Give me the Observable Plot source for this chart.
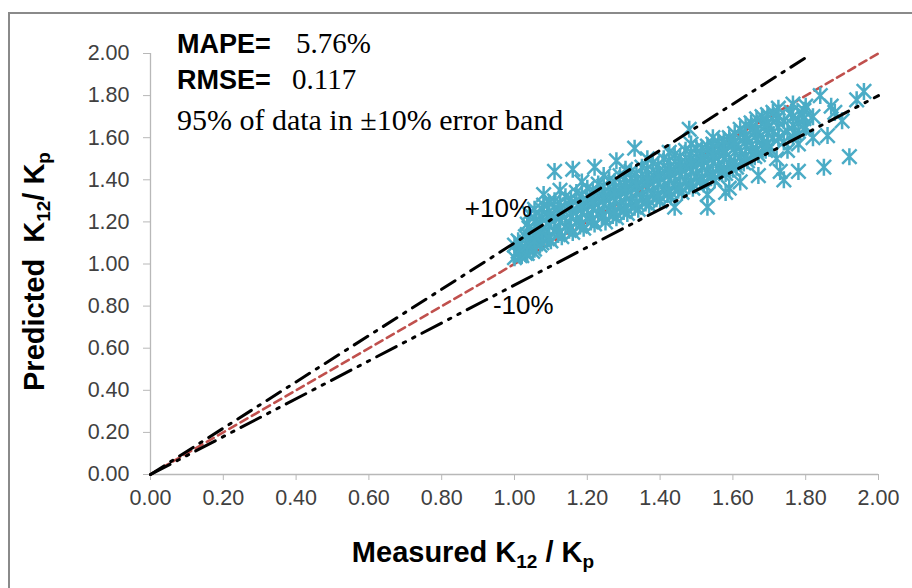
<!DOCTYPE html>
<html>
<head>
<meta charset="utf-8">
<script src="https://cdn.jsdelivr.net/npm/d3@7"></script>
<script src="https://cdn.jsdelivr.net/npm/@observablehq/plot@0.6"></script>
<style>
  html, body { margin: 0; padding: 0; background: #fff; }
  #wrap { position: relative; width: 912px; height: 588px; overflow: hidden; }
  #frame { position: absolute; left: 8px; top: 12px; right: -10px; bottom: -10px;
           border-top: 2px solid #8a8a8a; border-left: 2px solid #8a8a8a; pointer-events: none; }
</style>
</head>
<body>
<div id="wrap"><div id="frame"></div></div>
<script>
// ---- data ----
const measured = [
  1.00,1.01,1.00,1.02,1.01,1.02,1.03,1.03,
  1.04,1.05,1.04,1.06,1.05,1.06,1.04,1.06,
  1.07,1.08,1.07,1.09,1.08,1.09,1.08,
  1.10,1.11,1.10,1.12,1.11,1.12,1.11,
  1.13,1.14,1.13,1.15,1.14,1.15,1.16,
  1.16,1.17,1.16,1.18,1.17,1.18,
  1.19,1.20,1.19,1.21,1.20,1.21,1.22,
  1.22,1.23,1.22,1.24,1.23,1.24,
  1.25,1.26,1.25,1.27,1.26,1.27,1.28,
  1.28,1.29,1.28,1.30,1.29,1.30,
  1.31,1.32,1.31,1.33,1.32,1.33,1.33,
  1.34,1.35,1.34,1.36,1.35,1.36,
  1.37,1.38,1.37,1.39,1.38,1.39,
  1.40,1.41,1.40,1.42,1.41,1.42,
  1.43,1.44,1.43,1.45,1.44,1.45,1.44,
  1.46,1.47,1.46,1.48,1.47,1.48,1.48,
  1.49,1.50,1.49,1.51,1.50,1.51,1.53,
  1.52,1.53,1.52,1.54,1.53,1.54,
  1.55,1.56,1.55,1.57,1.56,1.57,1.58,
  1.58,1.59,1.58,1.60,1.59,1.60,
  1.61,1.62,1.61,1.63,1.62,1.63,1.62,
  1.64,1.65,1.64,1.66,1.65,1.66,1.67,
  1.67,1.68,1.67,1.69,1.68,1.69,
  1.70,1.71,1.70,1.72,1.71,1.72,1.73,
  1.74,1.75,1.74,1.76,1.75,1.74,
  1.77,1.78,1.79,1.80,1.78,1.80,
  1.82,1.84,1.86,1.85,1.78,1.88,1.92,1.94,1.96,1.90,1.82,1.87,1.59,1.53,
  1.015,1.015,1.015,
  1.035,1.035,1.035,1.035,
  1.055,1.055,1.055,1.055,1.055,
  1.075,1.075,1.075,1.075,
  1.095,1.095,1.095,1.095,
  1.125,1.125,1.125,1.125,1.125,
  1.155,1.155,1.155,1.155,
  1.185,1.185,1.185,1.185,1.185,
  1.215,1.215,1.215,1.215,
  1.245,1.245,1.245,1.245,1.245,
  1.275,1.275,1.275,1.275,
  1.305,1.305,1.305,1.305,1.305,
  1.335,1.335,1.335,1.335,
  1.365,1.365,1.365,1.365,1.365,
  1.395,1.395,1.395,1.395,
  1.425,1.425,1.425,1.425,1.425,
  1.455,1.455,1.455,1.455,
  1.485,1.485,1.485,1.485,1.485,
  1.515,1.515,1.515,1.515,
  1.545,1.545,1.545,1.545,1.545,
  1.575,1.575,1.575,1.575,
  1.605,1.605,1.605,1.605,
  1.635,1.635,1.635,1.635,
  1.665,1.665,1.665,1.665,
  1.695,1.695,1.695,1.695,
  1.725,1.725,1.725,1.725,
  1.765,1.765,1.765,1.765,
  1.795,1.795,1.795
];
const predicted = [
  1.03,1.06,1.09,1.04,1.11,1.08,1.13,1.05,
  1.08,1.12,1.17,1.21,1.06,1.15,1.24,1.10,
  1.09,1.14,1.19,1.24,1.28,1.12,1.33,
  1.11,1.16,1.21,1.26,1.30,1.14,1.44,
  1.13,1.18,1.23,1.28,1.32,1.16,1.45,
  1.15,1.20,1.25,1.29,1.34,1.18,
  1.17,1.22,1.27,1.31,1.36,1.20,1.46,
  1.19,1.24,1.29,1.33,1.38,1.22,
  1.20,1.26,1.31,1.35,1.40,1.23,1.49,
  1.22,1.28,1.33,1.37,1.42,1.25,
  1.24,1.30,1.35,1.39,1.44,1.27,1.55,
  1.26,1.32,1.37,1.41,1.46,1.29,
  1.28,1.34,1.39,1.43,1.48,1.31,
  1.30,1.36,1.41,1.45,1.50,1.33,
  1.32,1.38,1.43,1.47,1.52,1.35,1.27,
  1.34,1.40,1.45,1.49,1.54,1.37,1.64,
  1.36,1.42,1.47,1.51,1.55,1.39,1.27,
  1.38,1.44,1.49,1.53,1.56,1.41,
  1.40,1.46,1.51,1.55,1.58,1.43,1.34,
  1.43,1.48,1.53,1.57,1.60,1.45,
  1.46,1.51,1.56,1.60,1.64,1.48,1.39,
  1.49,1.54,1.59,1.63,1.67,1.51,1.42,
  1.52,1.57,1.62,1.66,1.70,1.54,
  1.55,1.60,1.65,1.69,1.72,1.50,1.44,
  1.58,1.63,1.68,1.72,1.54,1.40,
  1.62,1.67,1.71,1.75,1.57,1.65,
  1.70,1.80,1.61,1.46,1.44,1.72,1.51,1.78,1.82,1.68,1.60,1.75,1.36,1.33,
  1.04,1.07,1.10,
  1.05,1.09,1.14,1.19,
  1.07,1.11,1.16,1.20,1.26,
  1.10,1.16,1.22,1.26,
  1.12,1.18,1.23,1.29,
  1.15,1.20,1.24,1.29,1.35,
  1.17,1.22,1.27,1.31,
  1.19,1.24,1.28,1.33,1.39,
  1.21,1.26,1.30,1.35,
  1.23,1.28,1.32,1.37,1.42,
  1.25,1.30,1.34,1.39,
  1.27,1.32,1.36,1.41,1.45,
  1.29,1.34,1.38,1.43,
  1.31,1.36,1.40,1.45,1.50,
  1.33,1.38,1.42,1.47,
  1.35,1.40,1.44,1.49,1.53,
  1.37,1.42,1.46,1.51,
  1.39,1.44,1.48,1.53,1.57,
  1.41,1.46,1.50,1.55,
  1.43,1.48,1.52,1.57,1.60,
  1.45,1.50,1.54,1.59,
  1.48,1.53,1.58,1.62,
  1.51,1.56,1.61,1.66,
  1.54,1.59,1.64,1.69,
  1.57,1.62,1.67,1.71,
  1.60,1.65,1.70,1.74,
  1.60,1.66,1.70,1.76,
  1.64,1.69,1.73
];
const axisTicks = [0, 0.2, 0.4, 0.6, 0.8, 1.0, 1.2, 1.4, 1.6, 1.8, 2.0];
const parityX = [0, 2.0];   // y = x
const upperX  = [0, 1.8];   // y = 1.1 x  (+10%)
const lowerX  = [0, 2.0];   // y = 0.9 x  (-10%)
const upperFactor = 1.1, lowerFactor = 0.9;

const points = measured.map((m, i) => ({m, p: predicted[i]}));
const lineData = (xs, f) => xs.map(x => ({x, y: x * f}));

// Excel-like star marker: vertical bar + X
const excelStar = {
  draw(ctx, size) {
    const r = Math.sqrt(size / Math.PI);
    const d = r * 0.85;
    ctx.moveTo(0, -r); ctx.lineTo(0, r);
    ctx.moveTo(-d, -d); ctx.lineTo(d, d);
    ctx.moveTo(-d, d); ctx.lineTo(d, -d);
  }
};

const fmt = d3.format(".2f");
const plot = Plot.plot({
  width: 912, height: 588,
  marginLeft: 150, marginRight: 34, marginTop: 53, marginBottom: 114,
  style: {fontFamily: "'Liberation Sans', Arial, sans-serif", fontSize: "21px", color: "#404040", background: "transparent"},
  x: {domain: [0, 2], label: null},
  y: {domain: [0, 2], label: null},
  marks: [
    Plot.ruleY([0], {stroke: "#b8b8b8", strokeWidth: 1.3}),
    Plot.ruleX([0], {stroke: "#b8b8b8", strokeWidth: 1.3}),
    Plot.axisX(axisTicks, {tickFormat: fmt, tickSize: 6, tickPadding: 9, stroke: "#b8b8b8", fill: "#404040", label: null}),
    Plot.axisY(axisTicks, {tickFormat: fmt, tickSize: 7, tickPadding: 14, stroke: "#b8b8b8", fill: "#404040", label: null}),
    Plot.line(lineData(parityX, 1), {x: "x", y: "y", stroke: "#c0504d", strokeWidth: 2.6, strokeDasharray: "8,5"}),
    Plot.dot(points, {x: "m", y: "p", symbol: excelStar, r: 8.5, stroke: "#4bacc6", strokeWidth: 2.5, fill: "none"}),
    Plot.line(lineData(upperX, upperFactor), {x: "x", y: "y", stroke: "#000", strokeWidth: 3, strokeDasharray: "16,8,2.5,8"}),
    Plot.line(lineData(lowerX, lowerFactor), {x: "x", y: "y", stroke: "#000", strokeWidth: 3, strokeDasharray: "22,8,2.5,8,2.5,8"})
  ]
});

document.getElementById("wrap").prepend(plot);
const svg = d3.select(plot);
// tick labels are the only texts so far: enlarge them to match the reference
svg.selectAll("text").style("font-size", "21.5px").style("font-family", "'Liberation Sans', Arial, sans-serif");
const sx = plot.scale("x"), sy = plot.scale("y");

// annotation text (positions in data units, placed through the plot scales)
function addText(xv, yv, parts, opts = {}) {
  const t = svg.append("text")
    .attr("x", sx.apply(xv)).attr("y", sy.apply(yv))
    .attr("fill", "#000")
    .attr("text-anchor", opts.anchor || "start");
  for (const p of parts) {
    const ts = t.append("tspan").text(p.text)
      .style("font-family", p.family || "'Liberation Sans', Arial, sans-serif")
      .style("font-size", (p.size || 26) + "px")
      .style("font-weight", p.weight || "normal");
    if (p.dx != null) ts.attr("dx", p.dx);
    if (p.x != null) ts.attr("x", sx.apply(p.x));
  }
  return t;
}
const serif = "'Liberation Serif', 'Times New Roman', serif";
addText(0.074, 2.00, [{text: "MAPE=", weight: "bold", size: 27}, {text: "5.76%", family: serif, size: 29, x: 0.401}]);
addText(0.074, 1.83, [{text: "RMSE=", weight: "bold", size: 27}, {text: "0.117", family: serif, size: 29, x: 0.390}]);
addText(0.074, 1.635, [{text: "95% of data in \u00B110% error band", family: serif, size: 30}]);
addText(0.865, 1.221, [{text: "+10%", size: 26}]);
addText(0.942, 0.76, [{text: "-10%", size: 26}]);

// axis titles with subscripts
const titleFont = "'Liberation Sans', Arial, sans-serif";
const xt = svg.append("text")
  .attr("x", 473).attr("y", 562)
  .attr("text-anchor", "middle").style("font-family", titleFont)
  .style("font-weight", "bold").style("font-size", "29px").attr("fill", "#000");
xt.append("tspan").text("Measured K");
xt.append("tspan").text("12").style("font-size", "19px").attr("dy", 6);
xt.append("tspan").text(" / K").attr("dy", -6);
xt.append("tspan").text("p").style("font-size", "19px").attr("dy", 6);

const yt = svg.append("text")
  .attr("transform", `translate(44,${(sy.apply(0) + sy.apply(2)) / 2 + 8}) rotate(-90)`)
  .attr("text-anchor", "middle").style("font-family", titleFont)
  .style("font-weight", "bold").style("font-size", "29px").attr("fill", "#000");
yt.append("tspan").text("Predicted");
yt.append("tspan").text("K").attr("dx", 16);
yt.append("tspan").text("12").style("font-size", "19px").attr("dy", 6);
yt.append("tspan").text("/ K").attr("dy", -6);
yt.append("tspan").text("p").style("font-size", "19px").attr("dy", 6);
</script>
</body>
</html>
